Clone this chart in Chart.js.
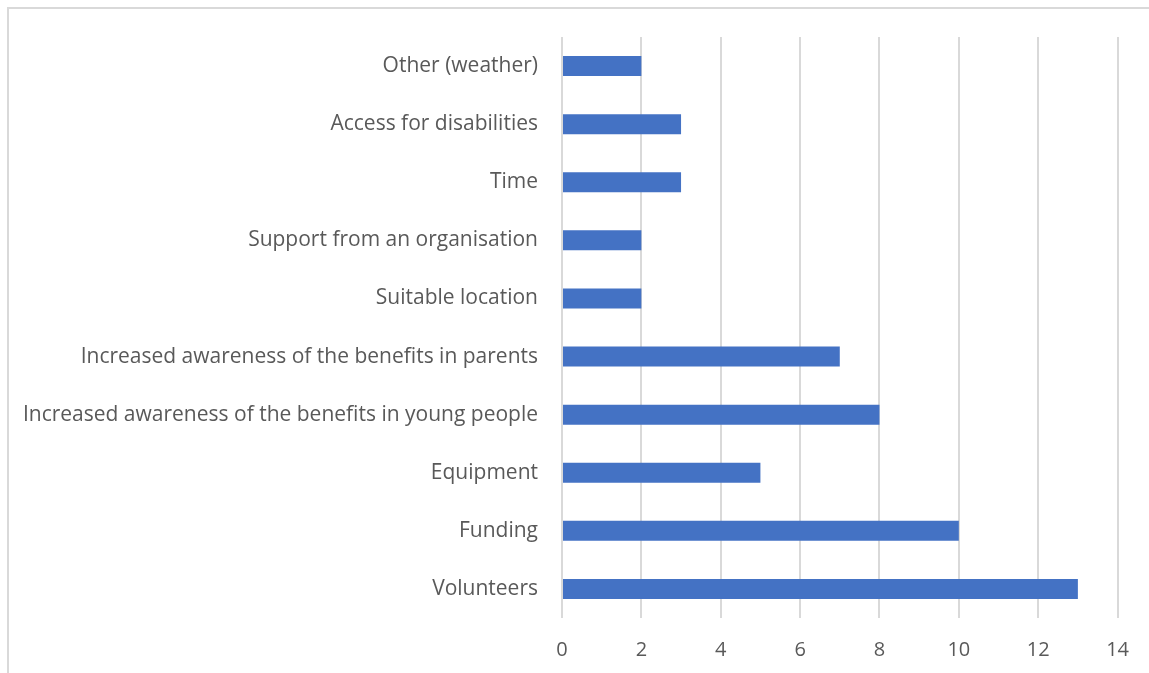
<!DOCTYPE html>
<html>
<head>
<meta charset="utf-8">
<script src="https://cdn.jsdelivr.net/npm/chart.js@4/dist/chart.umd.min.js"></script>
<style>
    html, body { margin: 0; padding: 0; background: #fff; }
    #frame {
        position: absolute; left: 7px; top: 7px; right: 0; bottom: 0;
        border-top: 2px solid #d9d9d9;
        border-left: 2px solid #d9d9d9;
    }
    #wrap { position: absolute; left: 0; top: 0; width: 1149px; height: 673px; }
</style>
</head>
<body>
<div id="frame"></div>
<div id="wrap"><canvas id="chart" width="1149" height="673"></canvas></div>
<script>
// kategori dari atas ke bawah
const categories = [
    'Other (weather)',
    'Access for disabilities',
    'Time',
    'Support from an organisation',
    'Suitable location',
    'Increased awareness of the benefits in parents',
    'Increased awareness of the benefits in young people',
    'Equipment',
    'Funding',
    'Volunteers'
];
const counts = [2, 3, 3, 2, 2, 7, 8, 5, 10, 13];
const xTicks = [0, 2, 4, 6, 8, 10, 12, 14];

const textColor = '#595959';
const gridColor = '#d9d9d9';
const fontFamily = "'Open Sans', 'Liberation Sans', sans-serif";

const ctx = document.getElementById('chart').getContext('2d');
new Chart(ctx, {
    type: 'bar',
    data: {
        labels: categories,
        datasets: [{
            data: counts,
            backgroundColor: '#4472c4',
            borderWidth: 0,
            barPercentage: 0.345,
            categoryPercentage: 1.0
        }]
    },
    options: {
        indexAxis: 'y',
        responsive: false,
        animation: false,
        layout: { padding: { top: 37, right: 30, left: 0, bottom: 0 } },
        plugins: {
            legend: { display: false },
            tooltip: { enabled: false }
        },
        scales: {
            x: {
                min: 0,
                max: 14,
                afterBuildTicks: scale => {
                    scale.ticks = xTicks.map(v => ({ value: v }));
                },
                afterFit: scale => { scale.height = 673 - 618; },
                grid: { color: gridColor, lineWidth: 2, drawTicks: false },
                border: { display: false },
                ticks: {
                    color: textColor,
                    padding: 20,
                    font: { family: fontFamily, size: 20 }
                }
            },
            y: {
                afterFit: scale => { scale.width = 562; },
                grid: { display: false, drawTicks: false },
                border: { display: false },
                ticks: {
                    color: textColor,
                    padding: 24,
                    font: { family: fontFamily, size: 21 }
                }
            }
        }
    }
});
</script>
</body>
</html>
